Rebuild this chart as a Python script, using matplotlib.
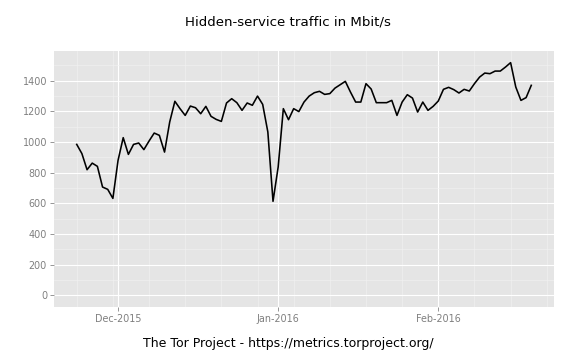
import matplotlib
matplotlib.use("Agg")
import matplotlib.pyplot as plt
import matplotlib.dates as mdates
import numpy as np
import pandas as pd

start_date = "2015-11-23"
traffic_mbit = [
    984, 924, 819, 862, 841, 706, 691, 632, 880, 1028,
    919, 984, 993, 950, 1006, 1058, 1043, 934, 1130, 1265,
    1217, 1173, 1234, 1223, 1184, 1232, 1167, 1147, 1134, 1254,
    1282, 1256, 1206, 1254, 1239, 1299, 1245, 1065, 613, 837,
    1217, 1145, 1217, 1198, 1260, 1299, 1321, 1330, 1310, 1315,
    1351, 1373, 1395, 1325, 1260, 1260, 1380, 1345, 1256, 1256,
    1256, 1271, 1173, 1260, 1308, 1286, 1195, 1260, 1206, 1232,
    1267, 1343, 1356, 1341, 1319, 1343, 1332, 1380, 1423, 1449,
    1445, 1462, 1462, 1488, 1517, 1358, 1271, 1289, 1369,
]
dates = pd.date_range(start_date, periods=len(traffic_mbit), freq="D")
y_ticks = [0, 200, 400, 600, 800, 1000, 1200, 1400]
x_tick_dates = ["2015-12-01", "2016-01-01", "2016-02-01"]

title = "Hidden-service traffic in Mbit/s"
xlabel = "The Tor Project - https://metrics.torproject.org/"

fig = plt.figure(figsize=(8, 5), dpi=72)
ax = fig.add_axes([54/576, 1-307/360, 500/576, 256/360])
ax.set_facecolor("#E5E5E5")

ax.plot(dates, traffic_mbit, color="black", lw=1.6, zorder=3)

# limits with ggplot-like expansion (include 0)
ymax = max(traffic_mbit)
pad = 0.05 * ymax
ax.set_ylim(-pad, ymax + pad)
span = dates[-1] - dates[0]
ax.set_xlim(dates[0] - 0.05 * span, dates[-1] + 0.05 * span)

ax.set_yticks(y_ticks)
ax.set_yticks([v + 100 for v in y_ticks], minor=True)
ax.set_xticks(pd.to_datetime(x_tick_dates))
ax.xaxis.set_major_formatter(mdates.DateFormatter("%b-%Y"))
ax.xaxis.set_minor_locator(mdates.WeekdayLocator(byweekday=mdates.MO))

ax.grid(True, which="major", color="white", lw=1.1, zorder=1)
ax.grid(True, which="minor", color="#F2F2F2", lw=0.6, zorder=0.5)
ax.set_axisbelow(True)
for s in ax.spines.values():
    s.set_visible(False)

ax.tick_params(which="major", length=4, color="#7F7F7F", labelcolor="#7F7F7F",
               labelsize=9.6, width=0.8, pad=3)
ax.tick_params(which="minor", length=0)

fig.text(0.5, 1 - 22/360, title, ha="center", va="center", fontsize=13.4)
fig.text(0.5, 1 - 344/360, xlabel, ha="center", va="center", fontsize=12.5)

fig.savefig("out.png", dpi=72)
